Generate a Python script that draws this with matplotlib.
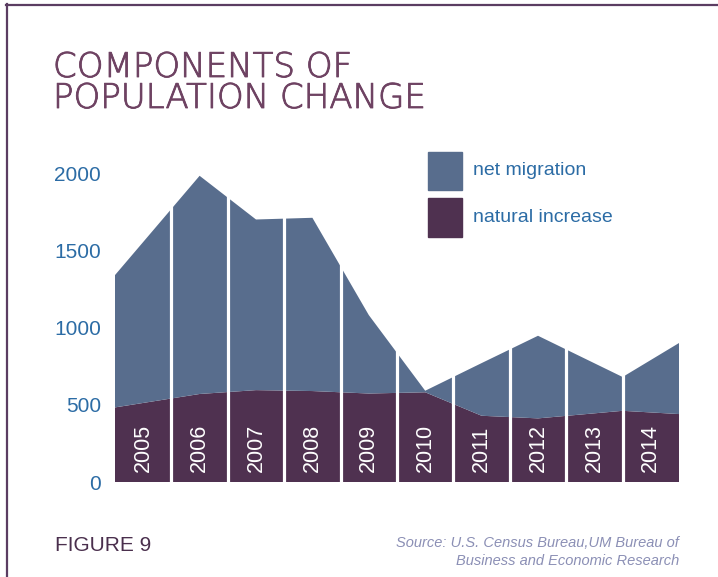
"""Components of population change: stacked area (natural increase + net migration)
with white year separators, 2005-2014."""
import matplotlib
matplotlib.use("Agg")
import matplotlib.pyplot as plt
import matplotlib.transforms as mtransforms
import matplotlib.patheffects as pe
from matplotlib.lines import Line2D
from matplotlib.patches import Rectangle

# vertices of the area outline (years; first/last are band edges)
vertex_years = [2004.5, 2006, 2007, 2008, 2009, 2010, 2011, 2012, 2013.5, 2014.5]
natural_increase = [483, 570, 595, 589, 573, 581, 429, 412, 461, 440]
net_migration = [857, 1413, 1105, 1122, 508, 10, 341, 535, 219, 460]

years = list(range(2005, 2015))
y_ticks = [0, 500, 1000, 1500, 2000]

C_MIG = "#586d8d"
C_NAT = "#4f3150"
C_BLUE = "#2c6ca5"
C_TITLE = "#6e4262"
C_FRAME = "#5b3d62"
C_SRC = "#8b8fb5"
REG = ["Liberation Sans", "DejaVu Sans"]

W, H = 718, 577
fig = plt.figure(figsize=(W / 100, H / 100), dpi=100)
fig.patch.set_facecolor("white")


def fx(px):
    return px / W


def fy(py):
    return 1 - py / H


ax = fig.add_axes([fx(115), fy(482), fx(679) - fx(115), fy(150) - fy(482)])
ax.stackplot(vertex_years, natural_increase, net_migration,
             colors=[C_NAT, C_MIG], linewidth=0)
for yr in years[:-1]:
    ax.axvline(yr + 0.5, color="white", lw=2.3, zorder=3)

trans = mtransforms.blended_transform_factory(ax.transData, ax.transAxes)
for yr in years:
    ax.text(yr, 0.03, str(yr), transform=trans, rotation=90, ha="center", va="bottom",
            color="white", fontsize=15.5, family=REG, zorder=4)

ax.set_xlim(years[0] - 0.5, years[-1] + 0.5)
ax.set_ylim(0, 2150)
ax.set_yticks(y_ticks)
ax.set_yticklabels([str(v) for v in y_ticks], family=REG, fontsize=15, color=C_BLUE)
ax.tick_params(axis="y", length=0, pad=10)
ax.set_xticks([])
for s in ax.spines.values():
    s.set_visible(False)
ax.set_facecolor("none")

# legend
for top, bot, col, lab in [(152, 190, C_MIG, "net migration"),
                           (198, 237, C_NAT, "natural increase")]:
    fig.patches.append(Rectangle((fx(428), fy(bot)), fx(462) - fx(428), fy(top) - fy(bot),
                                 transform=fig.transFigure, color=col, figure=fig))
    fig.text(fx(473), fy((top + bot) / 2), lab, family=REG, fontsize=14,
             color=C_BLUE, va="center", ha="left")

# title & footer
thick = [pe.withStroke(linewidth=0.6, foreground=C_TITLE)]
fig.text(fx(53), fy(77), "COMPONENTS OF", family="DejaVu Sans", fontweight="light",
         fontsize=24.5, color=C_TITLE, va="baseline", path_effects=thick)
fig.text(fx(53), fy(108), "POPULATION CHANGE", family="DejaVu Sans", fontweight="light",
         fontsize=24.5, color=C_TITLE, va="baseline", path_effects=thick)
fig.text(fx(55), fy(551), "FIGURE 9", family=REG, fontsize=15, color="#4a2f4d",
         va="baseline")
fig.text(fx(679), fy(547), "Source: U.S. Census Bureau,UM Bureau of", family=REG,
         style="italic", fontsize=10.5, color=C_SRC, ha="right", va="baseline")
fig.text(fx(679), fy(565), "Business and Economic Research", family=REG,
         style="italic", fontsize=10.5, color=C_SRC, ha="right", va="baseline")

# frame
fig.add_artist(Line2D([fx(7), fx(7)], [fy(4), 0], color=C_FRAME, lw=1.6))
fig.add_artist(Line2D([fx(6), 1], [fy(4.5), fy(4.5)], color=C_FRAME, lw=1.6))

fig.savefig("out.png", dpi=100)
